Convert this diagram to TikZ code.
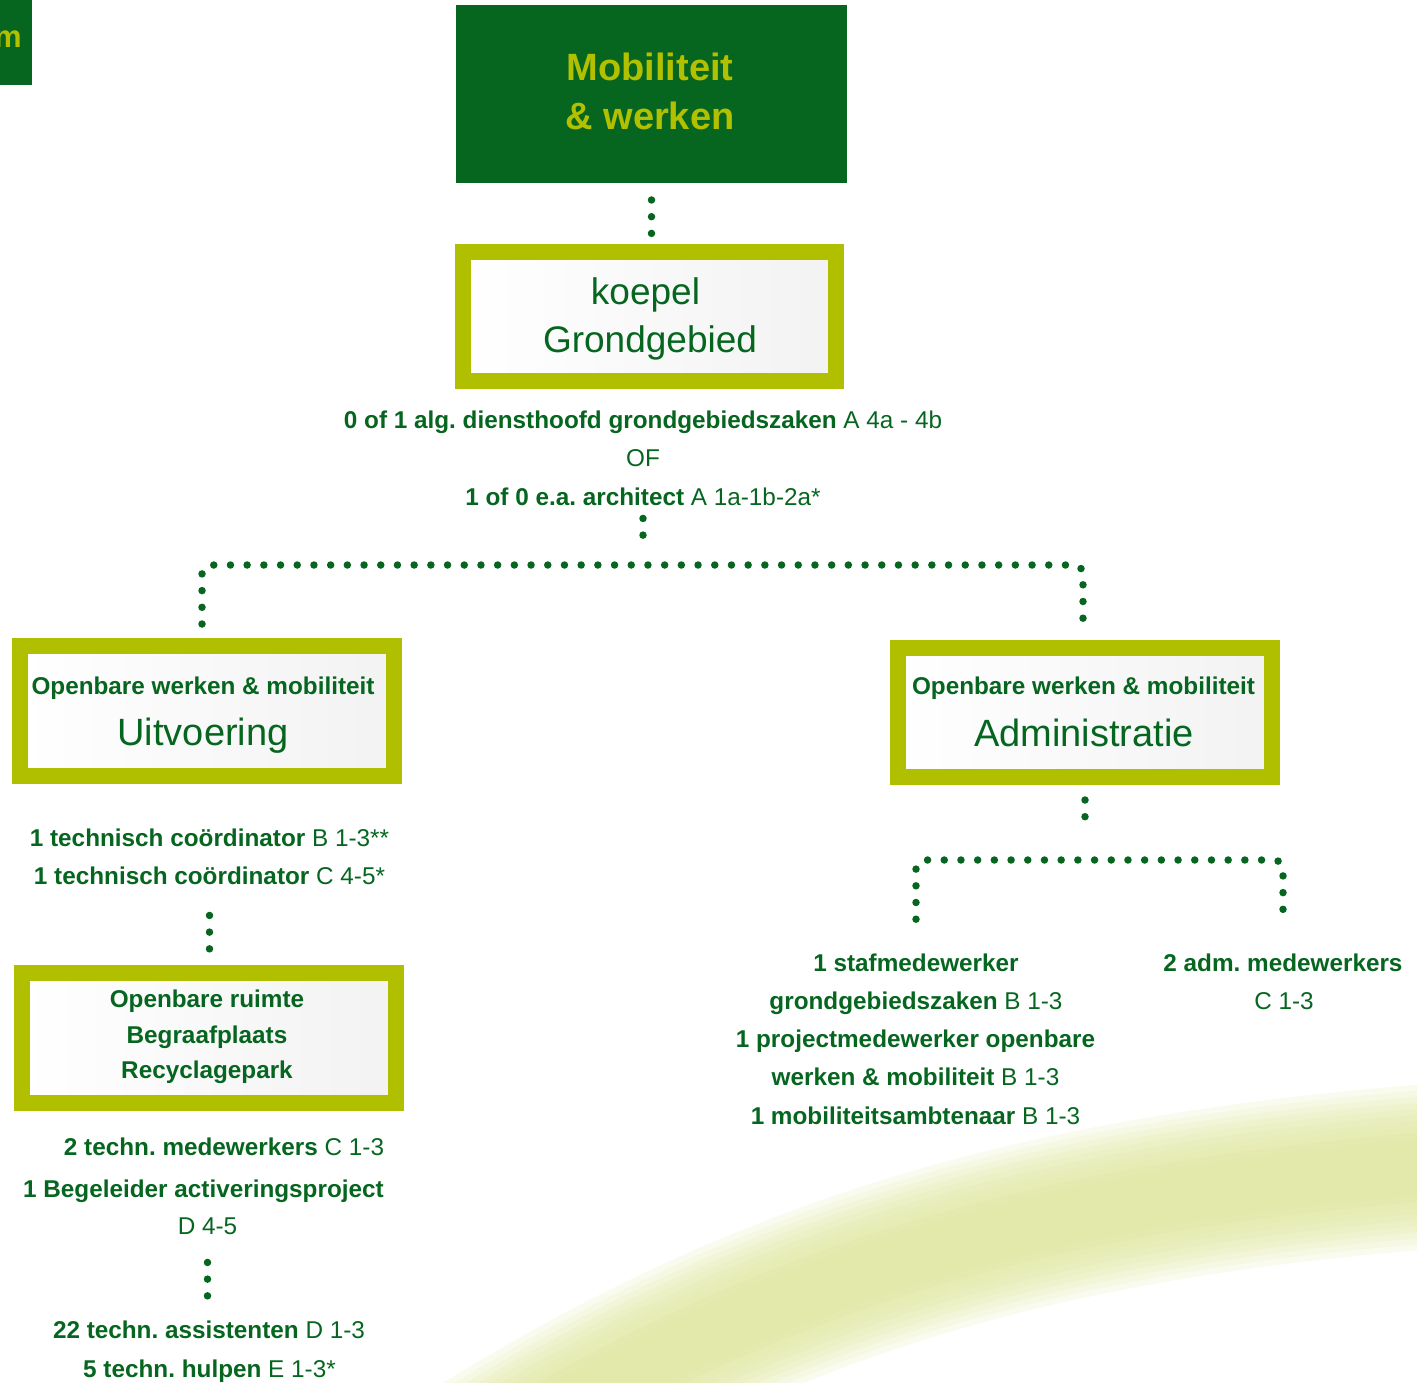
\documentclass[tikz,border=0pt]{standalone}
\usepackage{fontspec}
\setmainfont{Liberation Sans}
\usetikzlibrary{calc,backgrounds}
\definecolor{dgreen}{RGB}{6,102,32}
\definecolor{ygreen}{RGB}{176,191,0}
\definecolor{ttl}{RGB}{178,192,0}
\definecolor{swoosh}{RGB}{220,228,150}
\tikzset{
  frame/.style={draw=ygreen, line width=16pt, left color=white, right color=black!5,
    inner sep=0pt, minimum width=374pt, minimum height=130pt},
  txt/.style={inner sep=0pt, text=dgreen, anchor=base, font=\fontsize{24.3}{29}\selectfont},
  bigtxt/.style={inner sep=0pt, text=dgreen, anchor=base, font=\fontsize{37}{44}\selectfont},
  ttltxt/.style={inner sep=0pt, text=ttl, anchor=base, font=\fontsize{38}{44}\selectfont\bfseries},
  dots/.style={draw=dgreen, line width=7.5pt, line cap=round, dash pattern=on 0pt off 16.7pt},
}
\frenchspacing
\begin{document}
\begin{tikzpicture}[x=1pt, y=-1pt]
\useasboundingbox (0,0) rectangle (1417,1383);

% top-left cut box
\node[fill=dgreen, inner sep=0pt, outer sep=0pt, minimum width=60pt, minimum height=85pt] (cut) at (2,42.5) {};
\node[inner sep=0pt, text=ttl, anchor=base east, font=\fontsize{31}{36}\selectfont\bfseries] (cutm) at (22,48) {m};

% main box
\node[fill=dgreen, inner sep=0pt, outer sep=0pt, minimum width=391pt, minimum height=178pt] (main) at (651.5,94) {};
\node[ttltxt] (mob) at (650,81) {Mobiliteit};
\node[ttltxt] (wer) at (650,130) {\& werken};

% koepel
\node[frame, minimum width=373pt, minimum height=129pt] (koepel) at (649.5,316.5) {};
\node[bigtxt] (koep1) at (645.5,305) {koepel};
\node[bigtxt] (koep2) at (650,352) {Grondgebied};

\node[txt] (arch1) at (643,428) {\textbf{0 of 1 alg. diensthoofd grondgebiedszaken} A 4a - 4b};
\node[txt] (archof) at (643,466) {OF};
\node[txt] (arch3) at (643,505) {\textbf{1 of 0 e.a. architect} A 1a-1b-2a*};

% Uitvoering
\node[frame] (uitv) at (207,711) {};
\node[txt, font=\fontsize{24.3}{29}\selectfont\bfseries] (uitvh) at (203,694) {Openbare werken \& mobiliteit};
\node[txt, font=\fontsize{38}{44}\selectfont] (uitvn) at (203,745) {Uitvoering};

% Administratie
\node[frame, minimum height=129pt] (admin) at (1085,712.5) {};
\node[txt, font=\fontsize{24.3}{29}\selectfont\bfseries] (admh) at (1083.5,694) {Openbare werken \& mobiliteit};
\node[txt, font=\fontsize{38}{44}\selectfont] (admn) at (1084,746) {Administratie};

% left column
\node[txt] (tech1) at (209.5,846) {\textbf{1 technisch coördinator} B 1-3**};
\node[txt] (tech2) at (209.5,884) {\textbf{1 technisch coördinator} C 4-5*};

\node[frame] (ruimte) at (209,1038) {};
\node[txt, font=\fontsize{24.3}{29}\selectfont\bfseries] (r1) at (207,1007) {Openbare ruimte};
\node[txt, font=\fontsize{24.3}{29}\selectfont\bfseries] (r2) at (207,1043) {Begraafplaats};
\node[txt, font=\fontsize{24.3}{29}\selectfont\bfseries] (r3) at (207,1078) {Recyclagepark};

\node[txt] (med2) at (224,1155) {\textbf{2 techn. medewerkers} C 1-3};
\node[txt] (beg) at (203.5,1197) {\textbf{1 Begeleider activeringsproject}};
\node[txt] (d45) at (207.5,1234) {D 4-5};
\node[txt] (ass) at (209,1338) {\textbf{22 techn. assistenten} D 1-3};
\node[txt] (hulp) at (209.5,1377) {\textbf{5 techn. hulpen} E 1-3*};

% right column
\node[txt] (staf1) at (916,971) {\textbf{1 stafmedewerker}};
\node[txt] (staf2) at (916,1009) {\textbf{grondgebiedszaken} B 1-3};
\node[txt] (proj1) at (915.5,1047) {\textbf{1 projectmedewerker openbare}};
\node[txt] (proj2) at (915.5,1085) {\textbf{werken \& mobiliteit} B 1-3};
\node[txt] (mobamb) at (915.5,1124) {\textbf{1 mobiliteitsambtenaar} B 1-3};
\node[txt] (adm1) at (1283,971) {\textbf{2 adm. medewerkers}};
\node[txt] (adm2) at (1284,1009) {C 1-3};

\coordinate (bar) at (643,565);
\coordinate (rbar) at (1084,860);

\begin{scope}[on background layer]
  % swoosh (soft band)
  \foreach \w in {165,153,141,129,117,105,93,81,69,57}{
    \draw[swoosh, line width=\w pt, opacity=0.15]
      (320,1565) .. controls (700,1290) and (1000,1195) .. (1490,1162);
  }
  % connectors
  \draw[dots, shorten <=17pt] (main.south) -- (main.south |- koepel.north);
  \draw[dots, shorten <=13pt, shorten >=28pt] (arch3.south) -- (arch3.south |- bar);
  \draw[dots, rounded corners=9pt, shorten <=14pt, shorten >=19pt]
    ($(uitv.north)+(-5,0)$) |- (bar) -| ($(admin.north)+(-2,0)$);
  \draw[dots, shorten <=15pt, shorten >=27pt] (admin.south) -- (admin.south |- rbar);
  \draw[dots, rounded corners=9pt, shorten <=34pt, shorten >=39pt]
    (staf1.north) |- (rbar) -| (adm1.north);
  \draw[dots, shorten <=31pt, shorten >=16pt] (tech2.south) -- (tech2.south |- ruimte.north);
  \draw[dots, shorten <=28pt, shorten >=10pt] (d45.south) -- (d45.south |- ass.north);
\end{scope}
\end{tikzpicture}
\end{document}
